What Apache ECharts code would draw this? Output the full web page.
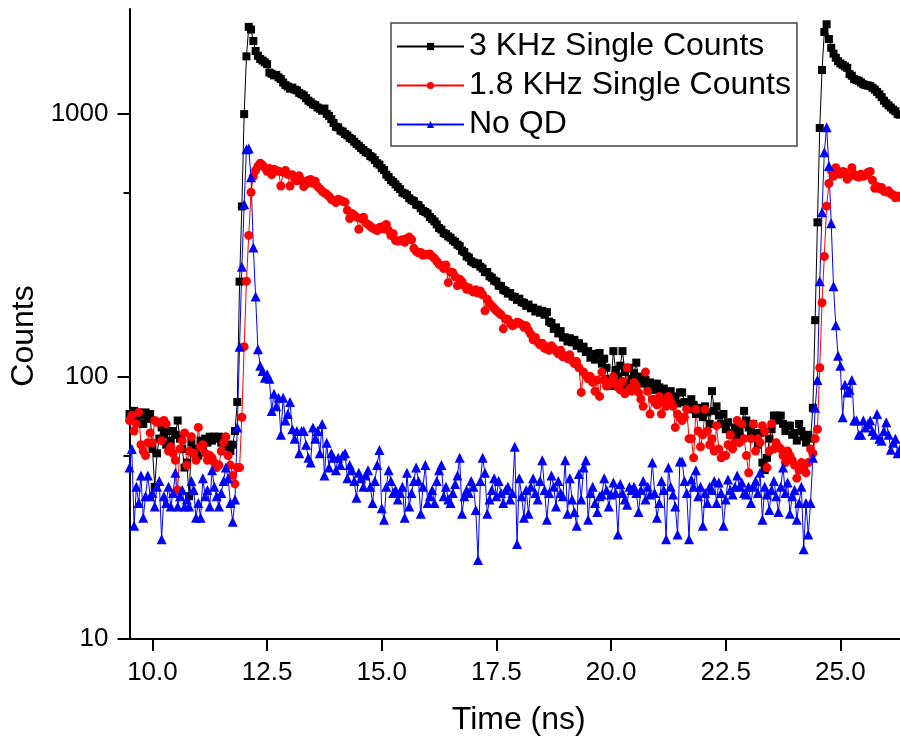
<!DOCTYPE html>
<html>
<head>
<meta charset="utf-8">
<title>Counts vs Time</title>
<script src="https://cdn.jsdelivr.net/npm/echarts@6/dist/echarts.min.js"></script>
<style>
  html, body { margin: 0; padding: 0; background: #fff; }
  #chart { width: 900px; height: 736px; }
</style>
</head>
<body>
<div id="chart"></div>
<script>
// time bins: 9.5 ns start, 0.05 ns per bin
const timeStart = 9.5;
const timeStep = 0.05;

const counts3k = [
  72, 70, 74, 68, 73, 71, 66, 73, 69, 72,
  53, 38, 51, 58, 64, 60, 55, 62, 57, 62,
  60, 68, 58, 53, 45, 47, 35, 56, 51, 53,
  50, 57, 54, 58, 56, 59, 57, 59, 58, 59,
  56, 57, 54, 55, 52, 55, 62, 80, 230, 445,
  1000, 1660, 2150, 2100, 1900, 1740, 1668, 1622, 1600, 1575,
  1550, 1440, 1425, 1405, 1410, 1380, 1360, 1320, 1290, 1275,
  1250, 1262, 1240, 1232, 1205, 1191, 1178, 1150, 1125, 1110,
  1090, 1082, 1060, 1048, 1030, 1050, 1002, 985, 957, 925,
  895, 890, 865, 858, 840, 830, 812, 803, 785, 770,
  758, 742, 730, 716, 710, 692, 684, 668, 650, 642,
  622, 612, 588, 576, 560, 552, 540, 528, 518, 502,
  498, 492, 478, 470, 466, 452, 450, 438, 428, 424,
  418, 405, 398, 390, 380, 368, 363, 352, 349, 342,
  338, 330, 326, 318, 314, 302, 298, 287, 284, 275,
  272, 268, 270, 262, 258, 250, 250, 241, 238, 232,
  230, 222, 221, 214, 212, 207, 208, 202, 201, 196,
  198, 192, 191, 186, 188, 182, 183, 177, 180, 175,
  178, 172, 176, 162, 160, 152, 154, 146, 149, 141,
  141, 136, 140, 135, 138, 131, 134, 128, 130, 124,
  125, 118, 122, 116, 120, 123, 112, 117, 108, 98,
  92, 125, 106, 100, 110, 125, 104, 93, 108, 98,
  103, 113, 96, 100, 94, 97, 92, 95, 92, 89,
  94, 91, 86, 90, 85, 80, 88, 82, 84, 79,
  87, 87, 80, 77, 75, 82, 78, 72, 76, 74,
  70, 77, 73, 66, 88, 74, 77, 71, 66, 72,
  63, 67, 60, 61, 64, 58, 62, 66, 74, 68,
  64, 60, 66, 61, 55, 61, 47, 44, 49, 58,
  63, 71, 71, 68, 71, 66, 62, 65, 65, 60,
  61, 57, 66, 62, 59, 56, 60, 58, 76, 164,
  387, 885, 1473, 2055, 2200, 1933, 1790, 1700, 1640, 1590,
  1560, 1540, 1520, 1500, 1420, 1400, 1360, 1350, 1340, 1320,
  1300, 1290, 1285, 1280, 1260, 1240, 1215, 1190, 1160, 1125,
  1100, 1080, 1060, 1040, 1025, 1000, 995
];

const counts18k = [
  68, 71, 62, 66, 73, 55, 52, 50, 56, 61,
  56, 68, 67, 67, 57, 68, 66, 52, 54, 51,
  48, 37, 53, 57, 61, 46, 52, 59, 51, 48,
  64, 54, 55, 51, 48, 50, 49, 47, 45, 46,
  52, 56, 59, 50, 46, 42, 39, 45, 45, 70,
  130, 231, 345, 504, 580, 610, 634, 650, 640, 625,
  606, 620, 588, 617, 610, 606, 532, 600, 610, 590,
  532, 588, 570, 557, 582, 560, 530, 541, 560, 564,
  545, 555, 530, 520, 509, 501, 495, 486, 474, 468,
  460, 474, 470, 466, 462, 430, 400, 418, 412, 405,
  364, 400, 405, 385, 380, 374, 368, 364, 360, 370,
  372, 365, 380, 360, 345, 350, 330, 328, 330, 332,
  325, 336, 340, 332, 308, 300, 296, 297, 290, 292,
  292, 293, 287, 282, 275, 268, 265, 258, 266, 228,
  250, 249, 240, 222, 235, 230, 222, 215, 218, 213,
  210, 214, 208, 212, 205, 178, 197, 190, 186, 182,
  178, 175, 172, 152, 166, 165, 160, 156, 158, 161,
  160, 158, 154, 156, 150, 145, 138, 141, 135, 132,
  134, 128, 130, 126, 131, 128, 125, 122, 126, 119,
  120, 117, 121, 115, 112, 114, 108, 87, 104, 101,
  98, 100, 95, 88, 97, 84, 104, 97, 92, 93,
  96, 100, 94, 91, 89, 96, 86, 108, 90, 88,
  95, 92, 87, 82, 77, 104, 88, 72, 82, 80,
  78, 84, 72, 80, 77, 84, 80, 77, 64, 72,
  70, 68, 70, 75, 58, 58, 49, 75, 62, 54,
  60, 75, 62, 55, 58, 52, 65, 53, 49, 50,
  50, 55, 60, 53, 56, 68, 56, 66, 58, 50,
  43, 58, 66, 52, 58, 56, 65, 62, 45, 52,
  66, 53, 56, 54, 53, 50, 47, 52, 50, 48,
  46, 41, 44, 47, 45, 43, 47, 53, 51, 58,
  63, 108, 191, 287, 446, 544, 610, 580, 625, 600,
  590, 605, 600, 565, 580, 625, 590, 580, 575, 590,
  580, 585, 600, 605, 560, 522, 530, 520, 525, 508,
  505, 510, 497, 492, 480, 488, 482
];

const countsNoQD = [
  45, 53, 27, 38, 33, 42, 29, 35, 42, 35,
  36, 32, 38, 40, 24, 35, 33, 38, 32, 36,
  43, 32, 35, 37, 32, 34, 32, 40, 37, 29,
  33, 29, 41, 35, 37, 32, 44, 38, 35, 32,
  36, 40, 45, 41, 33, 28, 34, 64, 130, 262,
  453, 735, 740, 575, 310, 202, 127, 110, 105, 99,
  102, 98, 74, 86, 77, 83, 60, 83, 68, 72,
  80, 63, 58, 62, 51, 62, 62, 55, 49, 47,
  64, 58, 62, 51, 66, 42, 56, 45, 51, 49,
  44, 49, 46, 50, 51, 41, 46, 44, 40, 34.5,
  43, 41, 38, 42, 44, 38, 33, 40, 46, 52.5,
  31.5, 28.5, 38, 44, 40, 36, 37, 34, 36, 38,
  29, 43, 32, 36, 40, 45, 40, 30, 38, 46,
  33, 35, 37, 33, 40, 44, 46, 35, 38, 34,
  33, 36, 39, 42, 49, 30, 35, 37, 36, 40,
  38, 31, 20, 40, 49, 43, 30, 34, 37, 41,
  35, 40, 36, 33, 37, 38, 34, 36, 54, 23,
  41, 35, 29, 37, 30, 38, 41, 36, 34, 40,
  48, 37, 28.5, 36, 42, 38, 32, 40, 36, 35,
  48, 30, 41, 34, 30.5, 27, 42.5, 34, 45, 48,
  28.5, 36, 38, 33, 30.5, 35, 35.5, 41, 37, 32,
  35.5, 39.5, 36, 25, 39, 36, 34, 32.5, 38, 37,
  38, 36, 30.5, 37, 40, 34, 38, 35.5, 47, 36,
  29, 33, 40, 37, 24, 45, 38, 35.5, 32, 25,
  47.5, 47.5, 40, 36, 24, 40.5, 38, 44, 35, 38,
  27, 36, 33, 38, 37, 40, 33, 39.5, 36, 27,
  34, 40.5, 37, 35.5, 38, 42, 38, 39.5, 36, 35.5,
  38, 33, 38, 40, 36, 43, 28.5, 38, 35.5, 31,
  37, 40, 35, 30.5, 38, 45, 36, 39.5, 30, 35,
  37, 28.5, 33, 38, 22, 33, 25, 33, 49, 76,
  97, 231, 423, 716, 891, 634, 384, 221, 157, 120,
  110, 70, 93, 87, 89, 97, 68, 68, 60, 60,
  68, 64, 66, 68, 62, 60, 72, 58, 57, 62,
  67, 60, 52.6, 56, 58, 51, 53
];

const seriesNames = ['3 KHz Single Counts', '1.8 KHz Single Counts', 'No QD'];
const xTicks = [10, 12.5, 15, 17.5, 20, 22.5, 25];
const yMajorTicks = [10, 100, 1000];
const yMinorTicks = [50, 500];

const fontFamily = '"Liberation Sans", Arial, sans-serif';

function toPoints(values) {
  return values.map((v, i) => [+(timeStart + i * timeStep).toFixed(2), v]);
}

function lineSeries(name, values, color, symbol, size) {
  return {
    name,
    type: 'line',
    data: toPoints(values),
    symbol,
    symbolSize: size,
    itemStyle: { color },
    lineStyle: { color, width: 1 },
    emphasis: { disabled: true },
  };
}

const chart = echarts.init(document.getElementById('chart'));

chart.setOption({
  animation: false,
  backgroundColor: '#fff',
  grid: { left: 129.5, right: 0, top: 9, bottom: 97, containLabel: false, outerBoundsMode: 'none' },
  legend: {
    orient: 'vertical',
    left: 391,
    top: 23,
    data: seriesNames,
    itemWidth: 67,
    itemHeight: 9,
    itemGap: 0,
    padding: [4, 6, 2, 5],
    borderColor: '#444',
    borderWidth: 1.5,
    backgroundColor: '#fff',
    selectedMode: false,
    textStyle: { fontSize: 32, lineHeight: 39, fontFamily, color: '#000' },
  },
  xAxis: {
    type: 'value',
    min: 9.5,
    max: 26.3,
    name: 'Time (ns)',
    nameLocation: 'middle',
    nameGap: 65,
    nameTextStyle: { fontSize: 32, fontFamily, color: '#000', padding: [0, 0, 0, 8] },
    axisLine: { show: true, lineStyle: { color: '#000', width: 2 } },
    axisTick: { show: true, length: 12, customValues: xTicks, lineStyle: { color: '#000', width: 2 } },
    axisLabel: {
      customValues: xTicks,
      fontSize: 26,
      fontFamily,
      color: '#000',
      margin: 21,
      formatter: v => v.toFixed(1),
    },
    splitLine: { show: false },
  },
  yAxis: [
    {
      type: 'log',
      logBase: 10,
      min: 10,
      max: 2515,
      name: 'Counts',
      nameLocation: 'middle',
      nameGap: 85,
      nameTextStyle: { fontSize: 32, fontFamily, color: '#000', padding: [0, 24, 0, 0] },
      axisLine: { show: true, lineStyle: { color: '#000', width: 2 } },
      axisTick: { show: true, length: 12, customValues: yMajorTicks, lineStyle: { color: '#000', width: 2 } },
      axisLabel: {
        customValues: yMajorTicks,
        fontSize: 26,
        fontFamily,
        color: '#000',
        margin: 21,
        formatter: v => String(Math.round(v)),
      },
      splitLine: { show: false },
      minorTick: { show: false },
    },
    {
      // minor ticks only
      type: 'log',
      logBase: 10,
      min: 10,
      max: 2515,
      position: 'left',
      axisLine: { show: false },
      axisTick: { show: true, length: 6, customValues: yMinorTicks, lineStyle: { color: '#000', width: 2 } },
      axisLabel: { show: false },
      splitLine: { show: false },
    },
  ],
  series: [
    lineSeries(seriesNames[0], counts3k, '#000000', 'rect', 8),
    lineSeries(seriesNames[1], counts18k, '#ff0000', 'circle', 9),
    lineSeries(seriesNames[2], countsNoQD, '#0000ff', 'triangle', 10),
  ],
});
</script>
</body>
</html>
